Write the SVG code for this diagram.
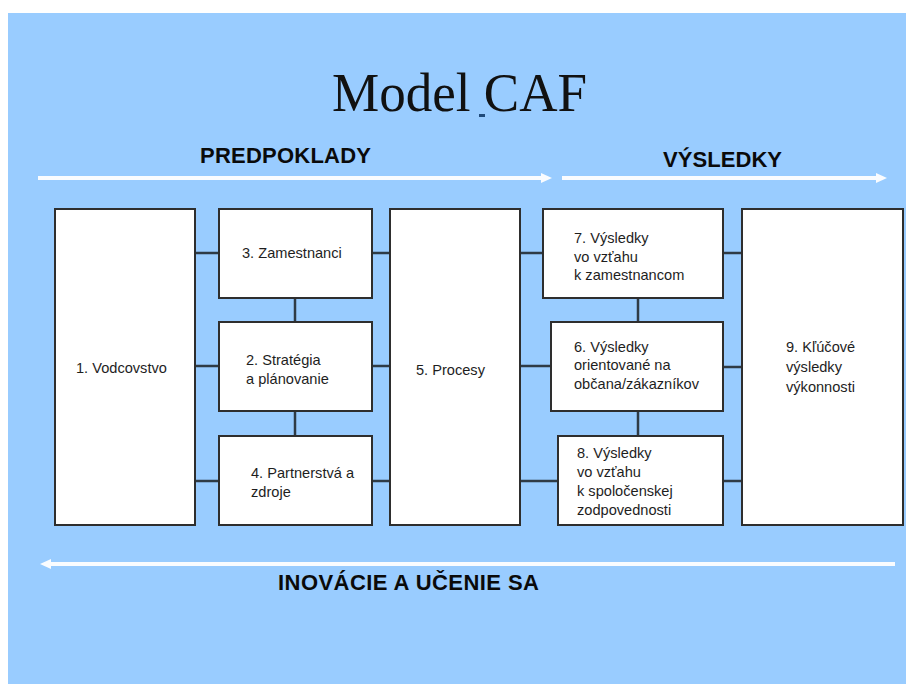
<svg xmlns="http://www.w3.org/2000/svg" width="906" height="684" viewBox="0 0 906 684">
  <defs>
    <style>
      .bg { fill: #99ccff; }
      .box { fill: #ffffff; stroke: #2e2e2e; stroke-width: 2; }
      .lbl { font-family: "Liberation Sans", Arial, sans-serif; font-size: 14.6px; fill: #1e1e1e; }
      #connectors line { stroke: #2f3b46; stroke-width: 2.5; }
      .flow { stroke: #fafcff; stroke-width: 4; }
      .head { font-family: "Liberation Sans", Arial, sans-serif; font-weight: bold; font-size: 22px; fill: #0a0a0a; }
      .title { font-family: "Liberation Serif", "Times New Roman", serif; font-size: 55px; fill: #111111; }
    </style>
    <marker id="tip" markerUnits="userSpaceOnUse" markerWidth="12" markerHeight="10" refX="5" refY="5" orient="auto">
      <path d="M0,0 L11,5 L0,10 z" fill="#fafcff"/>
    </marker>
  </defs>

  <rect class="bg" x="8" y="13" width="898" height="671"/>

  <!-- title -->
  <g id="title">
    <text class="title" x="332" y="111" textLength="255" lengthAdjust="spacingAndGlyphs">Model CAF</text>
    <rect x="479" y="114" width="6" height="3" fill="#1f4a7a"/>
  </g>

  <!-- flow arrows and their captions -->
  <g id="flows">
    <line class="flow" x1="38" y1="178" x2="546" y2="178" marker-end="url(#tip)"/>
    <line class="flow" x1="562" y1="178" x2="881" y2="178" marker-end="url(#tip)"/>
    <line class="flow" x1="895" y1="564" x2="46" y2="564" marker-end="url(#tip)"/>
    <text class="head" x="200" y="163" textLength="171" lengthAdjust="spacing">PREDPOKLADY</text>
    <text class="head" x="663" y="167" textLength="119" lengthAdjust="spacing">VÝSLEDKY</text>
    <text class="head" x="278" y="590" textLength="261" lengthAdjust="spacing">INOVÁCIE A UČENIE SA</text>
  </g>

  <!-- connectors between criteria -->
  <g id="connectors">
    <line x1="195" y1="253" x2="219" y2="253"/>
    <line x1="195" y1="366" x2="219" y2="366"/>
    <line x1="195" y1="481" x2="219" y2="481"/>
    <line x1="372" y1="253" x2="390" y2="253"/>
    <line x1="372" y1="366" x2="390" y2="366"/>
    <line x1="372" y1="481" x2="390" y2="481"/>
    <line x1="520" y1="253" x2="543" y2="253"/>
    <line x1="520" y1="366" x2="551" y2="366"/>
    <line x1="520" y1="481" x2="558" y2="481"/>
    <line x1="723" y1="253" x2="742" y2="253"/>
    <line x1="723" y1="367" x2="742" y2="367"/>
    <line x1="723" y1="481" x2="742" y2="481"/>
    <line x1="295" y1="298" x2="295" y2="322"/>
    <line x1="295" y1="411" x2="295" y2="436"/>
    <line x1="638" y1="298" x2="638" y2="322"/>
    <line x1="638" y1="411" x2="638" y2="436"/>
  </g>

  <g id="n1">
    <rect class="box" x="55" y="209" width="140" height="316"/>
    <text class="lbl" x="76" y="373">1. Vodcovstvo</text>
  </g>
  <g id="n3">
    <rect class="box" x="219" y="209" width="153" height="89"/>
    <text class="lbl" x="242" y="258">3. Zamestnanci</text>
  </g>
  <g id="n2">
    <rect class="box" x="219" y="322" width="153" height="89"/>
    <text class="lbl" x="246" y="365">2. Stratégia</text>
    <text class="lbl" x="246" y="384">a plánovanie</text>
  </g>
  <g id="n4">
    <rect class="box" x="219" y="436" width="153" height="89"/>
    <text class="lbl" x="251" y="478">4. Partnerstvá a</text>
    <text class="lbl" x="251" y="497">zdroje</text>
  </g>
  <g id="n5">
    <rect class="box" x="390" y="209" width="130" height="316"/>
    <text class="lbl" x="416" y="375">5. Procesy</text>
  </g>
  <g id="n7">
    <rect class="box" x="543" y="209" width="180" height="89"/>
    <text class="lbl" x="574" y="243">7. Výsledky</text>
    <text class="lbl" x="574" y="262">vo vzťahu</text>
    <text class="lbl" x="574" y="280">k zamestnancom</text>
  </g>
  <g id="n6">
    <rect class="box" x="551" y="322" width="172" height="89"/>
    <text class="lbl" x="574" y="352">6. Výsledky</text>
    <text class="lbl" x="574" y="370">orientované na</text>
    <text class="lbl" x="574" y="389">občana/zákazníkov</text>
  </g>
  <g id="n8">
    <rect class="box" x="558" y="436" width="165" height="89"/>
    <text class="lbl" x="577" y="458">8. Výsledky</text>
    <text class="lbl" x="577" y="477">vo vzťahu</text>
    <text class="lbl" x="577" y="496">k spoločenskej</text>
    <text class="lbl" x="577" y="515">zodpovednosti</text>
  </g>
  <g id="n9">
    <rect class="box" x="742" y="209" width="161" height="316"/>
    <text class="lbl" x="786" y="352">9. Kľúčové</text>
    <text class="lbl" x="786" y="372">výsledky</text>
    <text class="lbl" x="786" y="392">výkonnosti</text>
  </g>
</svg>
